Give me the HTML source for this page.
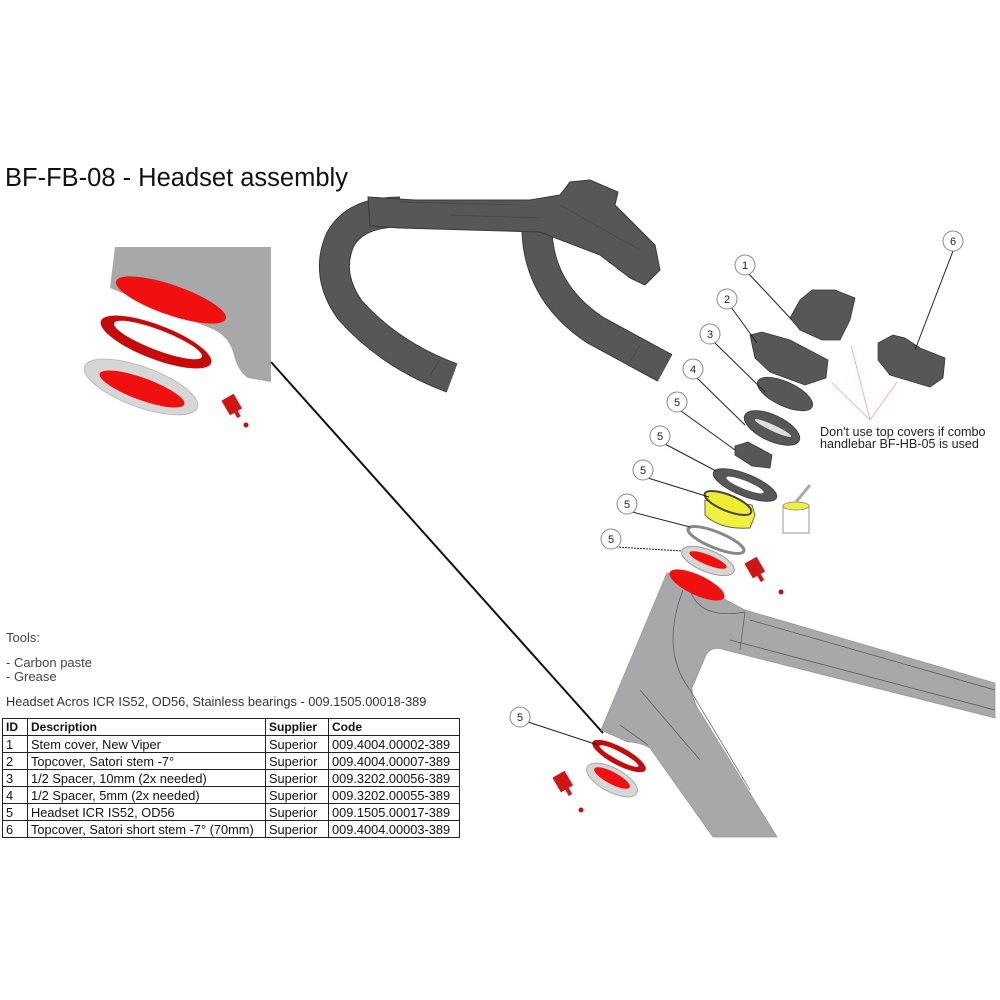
<!DOCTYPE html>
<html><head><meta charset="utf-8"><style>
html,body{margin:0;padding:0;background:#fff;}
body{width:1000px;height:1000px;position:relative;overflow:hidden;font-family:"Liberation Sans",Arial,sans-serif;}
svg{position:absolute;left:0;top:0;}
.t{position:absolute;color:#222;white-space:nowrap;}
table{position:absolute;left:2px;top:718px;border-collapse:collapse;font-size:12.8px;color:#111;}
td{border:1px solid #222;padding:0 3px;height:16px;line-height:15px;}
th{border:1.5px solid #222;padding:0 3px;height:16px;text-align:left;font-size:12px;}
</style></head><body>
<svg width="1000" height="1000" viewBox="0 0 1000 1000">
<!-- inset -->
<path d="M115,247 L271,247 L271,382 L248,378 Q238,372 233,352 Q228,335 210,328 L110,288 Z" fill="#a8a8aa"/>
<ellipse cx="171" cy="300" rx="58" ry="15" transform="rotate(19 171 300)" fill="#f01010"/>
<ellipse cx="156" cy="342" rx="59" ry="17" transform="rotate(21 156 342)" fill="#c40a0a"/>
<ellipse cx="158" cy="340" rx="47" ry="10" transform="rotate(21 158 340)" fill="#fff"/>
<ellipse cx="141" cy="387" rx="60" ry="20" transform="rotate(20 141 387)" fill="#d6d6d6" stroke="#bbb"/>
<ellipse cx="142" cy="389" rx="45" ry="11" transform="rotate(20 142 389)" fill="#f01010"/>
<g transform="translate(232,405) rotate(-30)"><rect x="-7" y="-9" width="14" height="17" fill="#d01515"/><rect x="-2" y="8" width="4" height="6" fill="#d01515"/></g>
<circle cx="246" cy="425" r="2.5" fill="#c01010"/>
<line x1="271" y1="362" x2="603" y2="733" stroke="#111" stroke-width="2"/>

<!-- handlebar -->
<g fill="none" stroke="#3a3a3a" stroke-width="31" stroke-linecap="butt">
<path d="M400,212 Q355,212 340,240 Q325,275 350,310 Q390,355 452,378"/>
<path d="M537,222 Q535,290 595,330 L665,368"/>
</g>
<g fill="none" stroke="#575757" stroke-width="29" stroke-linecap="butt">
<path d="M400,212 Q355,212 340,240 Q325,275 350,310 Q390,355 452,378"/>
<path d="M537,222 Q535,290 595,330 L665,368"/>
</g>
<g fill="#575757" stroke="#3a3a3a" stroke-width="1">
<path d="M368,197 L415,200 L530,200 L560,195 L570,182 L590,180 L618,192 L615,205 L655,245 L660,270 L645,285 L630,278 L600,255 L540,232 L400,228 L370,226 Z"/>
</g>
<g fill="none" stroke="#444" stroke-width=".7">
<path d="M400,202 L520,205 M450,215 L540,218 M560,205 L640,250 M440,360 L430,375 M640,345 L630,362"/>
</g>

<!-- frame -->
<path d="M667,573 Q690,572 726,600 L745,610 L995,683 L995,718 L725,650 Q712,645 706,655 L692,688 Q692,700 700,712 L777,837 L713,837 L650,748 Q640,742 628,742 L601,730 Z" fill="#a8a8aa" stroke="#999" stroke-width=".8"/>
<g fill="none" stroke="#555" stroke-width=".7">
<path d="M683,590 Q660,650 690,690 L750,790 M745,612 L740,650 M750,620 L995,690 M730,640 L995,710 M640,690 L700,760 M620,725 L648,745"/>
<path d="M690,590 Q700,620 745,612"/>
</g>
<ellipse cx="697" cy="585" rx="30" ry="10" transform="rotate(25 697 585)" fill="#f01010"/>

<!-- bottom headset parts -->
<ellipse cx="619" cy="756" rx="30" ry="9" transform="rotate(28 619 756)" fill="#c40a0a"/>
<ellipse cx="619" cy="756" rx="22" ry="4" transform="rotate(28 619 756)" fill="#fff"/>
<ellipse cx="612" cy="780" rx="28" ry="12" transform="rotate(28 612 780)" fill="#d6d6d6" stroke="#aaa"/>
<ellipse cx="612" cy="778" rx="20" ry="6" transform="rotate(28 612 778)" fill="#f01010"/>
<g transform="translate(563,782) rotate(-30)"><rect x="-7" y="-9" width="14" height="17" fill="#d01515"/><rect x="-2" y="8" width="4" height="7" fill="#d01515"/></g>
<circle cx="581" cy="810" r="2.5" fill="#c01010"/>

<!-- stack parts -->
<g fill="#575757" stroke="#3a3a3a" stroke-width=".8">
<path d="M790,318 L800,300 L812,290 L835,290 L855,298 L850,320 L840,340 L822,340 L800,330 Z"/>
<path d="M878,343 L893,335 L905,338 L920,348 L945,358 L943,378 L930,387 L890,375 L878,360 Z"/>
<path d="M750,335 L762,332 L790,340 L828,360 L826,378 L805,385 L770,372 L755,358 Z"/>
<ellipse cx="785" cy="394" rx="30" ry="12" transform="rotate(25 785 394)"/>
<ellipse cx="772" cy="428" rx="30" ry="13" transform="rotate(25 772 428)"/>
<path d="M735,446 L748,442 L772,455 L770,468 L752,466 L735,455 Z"/>
<ellipse cx="745" cy="485" rx="34" ry="11" transform="rotate(22 745 485)"/>
</g>
<ellipse cx="773" cy="428" rx="20" ry="3" transform="rotate(25 773 428)" fill="#ddd"/>
<ellipse cx="745" cy="485" rx="20" ry="4" transform="rotate(22 745 485)" fill="#fff"/>
<path d="M705,500 L705,515 Q720,530 750,528 L755,515 L752,505 Z" fill="#f0f040" stroke="#666"/>
<ellipse cx="728" cy="503" rx="25" ry="8" transform="rotate(22 728 503)" fill="#eeee30" stroke="#444" stroke-width="2"/>
<ellipse cx="716" cy="540" rx="30" ry="8" transform="rotate(22 716 540)" fill="none" stroke="#888" stroke-width="3"/>
<ellipse cx="708" cy="561" rx="28" ry="11" transform="rotate(22 708 561)" fill="#d6d6d6" stroke="#999"/>
<ellipse cx="708" cy="560" rx="20" ry="5" transform="rotate(22 708 560)" fill="#f01010"/>
<rect x="783" y="505" width="26" height="28" fill="#fff" stroke="#999"/>
<ellipse cx="796" cy="506" rx="13" ry="4" fill="#f0f040" stroke="#999"/>
<line x1="796" y1="502" x2="810" y2="485" stroke="#aaa" stroke-width="3"/>
<g transform="translate(755,568) rotate(-30)"><rect x="-7" y="-9" width="14" height="17" fill="#d01515"/><rect x="-2" y="8" width="4" height="7" fill="#d01515"/></g>
<circle cx="781" cy="592" r="2.5" fill="#c01010"/>

<!-- pink lines -->
<g stroke="#f0a0b0" stroke-width=".8"><line x1="870" y1="420" x2="851" y2="345"/><line x1="870" y1="420" x2="832" y2="383"/><line x1="870" y1="420" x2="897" y2="382"/></g>

<!-- callouts -->
<g stroke="#222" stroke-width="1">
<line x1="953" y1="251" x2="915" y2="350"/>
<line x1="749" y1="274" x2="792" y2="320"/>
<line x1="731" y1="307" x2="757" y2="343"/>
<line x1="714" y1="342" x2="765" y2="392"/>
<line x1="697" y1="378" x2="745" y2="425"/>
<line x1="681" y1="411" x2="735" y2="450"/>
<line x1="665" y1="444" x2="716" y2="471"/>
<line x1="648" y1="478" x2="709" y2="497"/>
<line x1="632" y1="512" x2="690" y2="527"/>
<line x1="616" y1="547" x2="682" y2="551" stroke-dasharray="2 1"/>
<line x1="528" y1="722" x2="598" y2="745"/>
</g>
<g fill="#fff" stroke="#888" stroke-width="1">
<circle cx="953" cy="241" r="10"/><circle cx="745" cy="265" r="10"/><circle cx="727" cy="299" r="10"/><circle cx="710" cy="334" r="10"/><circle cx="693" cy="369" r="10"/><circle cx="677" cy="402" r="10"/><circle cx="660" cy="436" r="10"/><circle cx="643" cy="470" r="10"/><circle cx="627" cy="504" r="10"/><circle cx="611" cy="539" r="10"/><circle cx="520" cy="717" r="10"/>
</g>
<g fill="#222" font-family="Liberation Sans" font-size="11" text-anchor="middle" stroke="none">
<text x="953" y="245">6</text><text x="745" y="269">1</text><text x="727" y="303">2</text><text x="710" y="338">3</text><text x="693" y="373">4</text><text x="677" y="406">5</text><text x="660" y="440">5</text><text x="643" y="474">5</text><text x="627" y="508">5</text><text x="611" y="543">5</text><text x="520" y="721">5</text>
</g>
<text x="820" y="436" font-family="Liberation Sans" font-size="12.6" fill="#222">Don't use top covers if combo</text>
<text x="820" y="448" font-family="Liberation Sans" font-size="12.6" fill="#222">handlebar BF-HB-05 is used</text>
</svg>

<div class="t" style="left:5px;top:164px;font-size:25.5px;color:#111;">BF-FB-08 - Headset assembly</div>
<div class="t" style="left:6px;top:630px;font-size:13px;color:#444;">Tools:</div>
<div class="t" style="left:6px;top:656px;font-size:13px;color:#444;line-height:14px;">- Carbon paste<br>- Grease</div>
<div class="t" style="left:6px;top:694px;font-size:12.8px;color:#333;">Headset Acros ICR IS52, OD56, Stainless bearings - 009.1505.00018-389</div>
<table>
<tr><th style="width:18px">ID</th><th style="width:231px">Description</th><th style="width:56px">Supplier</th><th style="width:124px">Code</th></tr>
<tr><td>1</td><td>Stem cover, New Viper</td><td>Superior</td><td>009.4004.00002-389</td></tr>
<tr><td>2</td><td>Topcover, Satori stem -7°</td><td>Superior</td><td>009.4004.00007-389</td></tr>
<tr><td>3</td><td>1/2 Spacer, 10mm (2x needed)</td><td>Superior</td><td>009.3202.00056-389</td></tr>
<tr><td>4</td><td>1/2 Spacer, 5mm (2x needed)</td><td>Superior</td><td>009.3202.00055-389</td></tr>
<tr><td>5</td><td>Headset ICR IS52, OD56</td><td>Superior</td><td>009.1505.00017-389</td></tr>
<tr><td>6</td><td>Topcover, Satori short stem -7° (70mm)</td><td>Superior</td><td>009.4004.00003-389</td></tr>
</table>
</body></html>
